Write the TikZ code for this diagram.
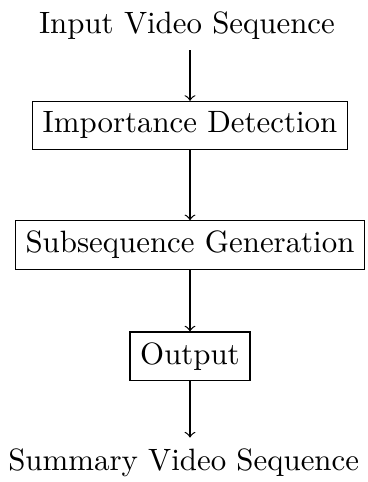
\documentclass[tikz,border=0pt]{standalone}
\usepackage{tikz}

\tikzset{block/.style={draw, rectangle}}

\begin{document}
\begin{tikzpicture}[x=0.324pt,y=-0.324pt]
    \useasboundingbox (0,0) rectangle (367,482);

    \node (input) at (187,25.5) {Input Video Sequence};
    \node[block] (detect) at (190,125.3) {Importance Detection};
    \node[block] (subgen) at (190,245) {Subsequence Generation};
    \node[block] (output) at (190,356.2) {Output};
    \node (summary) at (183.7,462.5) {Summary Video Sequence};

    \draw[->] (input.south -| detect) -- (detect);
    \draw[->] (detect) -- (subgen);
    \draw[->] (subgen) -- (output);
    \draw[->] (output) -- (output |- summary.north);
\end{tikzpicture}
\end{document}
